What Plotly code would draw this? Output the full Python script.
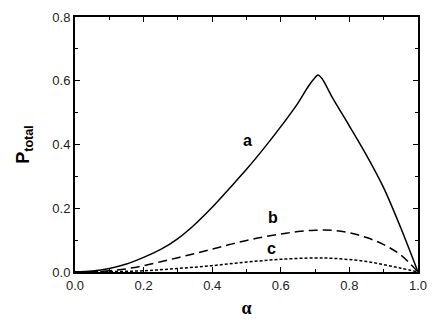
import plotly.graph_objects as go

# values
alpha_a = [0, 0.05, 0.1, 0.15, 0.2, 0.25, 0.3, 0.35, 0.4, 0.45, 0.5, 0.55, 0.6,
           0.65, 0.68, 0.70, 0.708, 0.72, 0.75, 0.8, 0.85, 0.9, 0.95, 1.0]
p_a = [0, 0.003, 0.011, 0.025, 0.046, 0.071, 0.105, 0.150, 0.203, 0.262, 0.322, 0.387,
       0.456, 0.530, 0.582, 0.610, 0.618, 0.607, 0.548, 0.458, 0.366, 0.264, 0.138, 0]

alpha_b = [0, 0.05, 0.1, 0.15, 0.2, 0.25, 0.3, 0.35, 0.4, 0.45, 0.5, 0.55, 0.6,
           0.65, 0.7, 0.75, 0.8, 0.85, 0.9, 0.95, 1.0]
p_b = [0, 0.001, 0.004, 0.01, 0.02, 0.032, 0.045, 0.058, 0.072, 0.086, 0.099, 0.110,
       0.119, 0.127, 0.131, 0.131, 0.123, 0.108, 0.086, 0.053, 0]

alpha_c = [0, 0.1, 0.2, 0.3, 0.4, 0.5, 0.6, 0.7, 0.75, 0.8, 0.85, 0.9, 0.95, 1.0]
p_c = [0, 0.001, 0.004, 0.011, 0.02, 0.031, 0.04, 0.044, 0.043, 0.039, 0.033, 0.023,
       0.012, 0]

labels = ['a', 'b', 'c']
label_x = [0.504, 0.577, 0.574]
label_y = [0.414, 0.17, 0.075]

fig = go.Figure()

fig.add_trace(go.Scatter(x=alpha_a, y=p_a, mode='lines',
                         line=dict(color='black', width=1.5, shape='spline', smoothing=0.8)))
fig.add_trace(go.Scatter(x=alpha_b, y=p_b, mode='lines',
                         line=dict(color='black', width=1.5, dash='9px,5px', shape='spline')))
fig.add_trace(go.Scatter(x=alpha_c, y=p_c, mode='lines',
                         line=dict(color='black', width=1.5, dash='3px,2px', shape='spline')))

# curve labels
for t, x, y in zip(labels, label_x, label_y):
    fig.add_annotation(x=x, y=y, text='<b>%s</b>' % t, showarrow=False,
                       font=dict(family='Liberation Sans, Arial', size=16, color='black'))

axis_style = dict(
    showline=True, linecolor='black', linewidth=2, mirror='ticks',
    ticks='inside', ticklen=5, tickwidth=1, tickcolor='black',
    showgrid=False, zeroline=False, automargin=False,
    tickfont=dict(family='Liberation Sans, Arial', size=13, color='#222'),
    tickformat='.1f',
)

fig.update_xaxes(range=[0, 1], dtick=0.2,
                 minor=dict(dtick=0.1, ticks='inside', ticklen=3, tickcolor='black'),
                 title=dict(text='<b>α</b>', standoff=10,
                            font=dict(family='Liberation Serif, Times New Roman', size=18,
                                      color='black')),
                 **axis_style)
fig.update_yaxes(range=[0, 0.8], dtick=0.2,
                 minor=dict(dtick=0.1, ticks='inside', ticklen=3, tickcolor='black'),
                 title=dict(text='<b>P<sub>total</sub></b>', standoff=18,
                            font=dict(family='Liberation Sans, Arial', size=18,
                                      color='black')),
                 **axis_style)

# page body has an 8px margin, so the figure is sized to fit inside the window
fig.update_layout(
    width=428, height=325,
    margin=dict(l=67, r=18, t=9, b=61),
    plot_bgcolor='white', paper_bgcolor='white',
    showlegend=False,
)

fig.write_html("out.html")
